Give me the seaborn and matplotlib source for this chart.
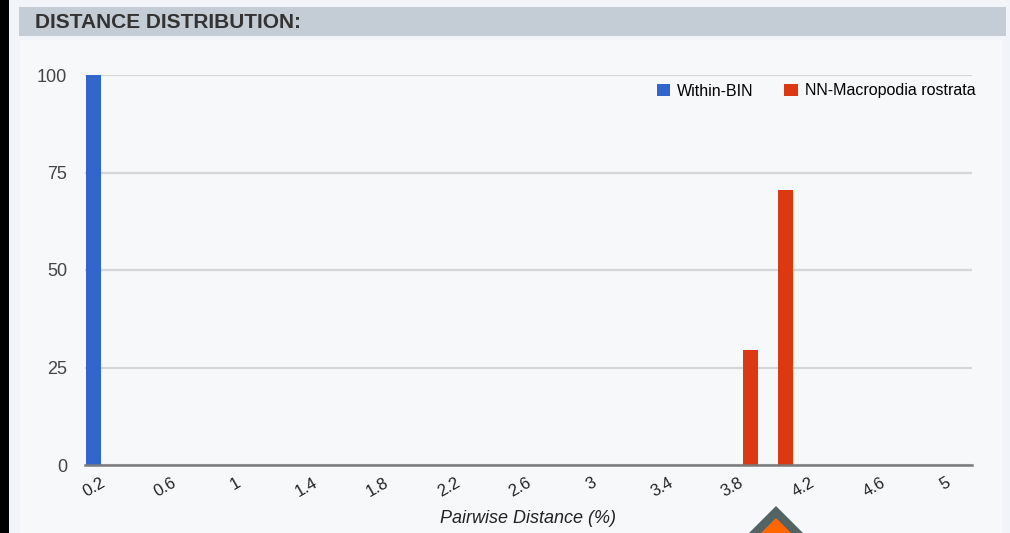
import matplotlib
matplotlib.use("Agg")
import matplotlib.pyplot as plt
from matplotlib.patches import Rectangle, Polygon, Patch
import seaborn as sns
import pandas as pd

# Distance bins (%) on the category axis
bins = ["0.2", "0.3", "0.4", "0.5", "0.6", "0.7", "0.8", "0.9", "1", "1.1",
        "1.2", "1.3", "1.4", "1.5", "1.6", "1.7", "1.8", "1.9", "2", "2.1",
        "2.2", "2.3", "2.4", "2.5", "2.6", "2.7", "2.8", "2.9", "3", "3.1",
        "3.2", "3.3", "3.4", "3.5", "3.6", "3.7", "3.8", "3.9", "4", "4.1",
        "4.2", "4.3", "4.4", "4.5", "4.6", "4.7", "4.8", "4.9", "5", "5.1"]
tick_labels = ["0.2", "0.6", "1", "1.4", "1.8", "2.2", "2.6", "3", "3.4",
               "3.8", "4.2", "4.6", "5"]

series_names = ["Within-BIN", "NN-Macropodia rostrata"]
within_bins = ["0.2"]
within_pct = [100]
nn_bins = ["3.9", "4.1"]
nn_pct = [29.4, 70.6]

colors = ["#3366cc", "#dc3912"]

df = pd.DataFrame({
    "bin": within_bins + nn_bins,
    "pct": within_pct + nn_pct,
    "series": [series_names[0]] * len(within_bins) + [series_names[1]] * len(nn_bins),
})

W, H = 1010, 533
fig = plt.figure(figsize=(W / 100, H / 100), dpi=100, facecolor="#f1f5f9")

def px_rect(x0, y0, x1, y1, color, z=0):
    fig.add_artist(Rectangle((x0 / W, 1 - y1 / H), (x1 - x0) / W, (y1 - y0) / H,
                             transform=fig.transFigure, facecolor=color,
                             edgecolor="none", zorder=z))

# page frame: dark strip, panel body, section header
px_rect(0, 0, 9, H, "#000000")
px_rect(20, 40, 1002, H, "#f7f8fa")
px_rect(19, 7, 1006, 36, "#c4cdd6")
fig.text(35 / W, 1 - 22 / H, "DISTANCE DISTRIBUTION:", fontsize=15,
         fontweight="heavy", color="#333333", family="Liberation Sans",
         va="center", ha="left")

ax = fig.add_axes([85 / W, 1 - 465 / H, (972 - 85) / W, (465 - 75) / H])
ax.set_facecolor("#f7f8fa")

sns.barplot(data=df, x="bin", y="pct", hue="series", order=bins,
            hue_order=series_names, palette=colors, dodge=False,
            width=0.86, saturation=1, ax=ax, legend=False)

ax.set_xlim(-0.5, len(bins) - 0.5)
ax.set_ylim(0, 100)
ax.set_yticks([0, 25, 50, 75, 100])
ax.set_yticklabels(["0", "25", "50", "75", "100"])
ax.grid(axis="y", color="#d6d6d6", linewidth=1.6, zorder=0)
ax.set_axisbelow(True)
for s in ["top", "right", "left"]:
    ax.spines[s].set_visible(False)
ax.spines["bottom"].set_color("#7a7a7a")
ax.spines["bottom"].set_linewidth(1.8)
ax.spines["bottom"].set_zorder(5)

tick_pos = [bins.index(t) for t in tick_labels]
ax.set_xticks(tick_pos)
ax.set_xticklabels(tick_labels, rotation=30, ha="center",
                   fontsize=12, color="#222222", family="Liberation Sans")
ax.tick_params(axis="x", length=0, pad=7)
ax.tick_params(axis="y", length=0, pad=13, labelsize=13, labelcolor="#444444")
for lab in ax.get_yticklabels():
    lab.set_family("Liberation Sans")

ax.set_ylabel("")
ax.set_xlabel("Pairwise Distance (%)", fontsize=13, style="italic",
              color="#222222", family="Liberation Sans", labelpad=8)

handles = [Patch(facecolor=c, edgecolor="none") for c in colors]
fig.legend(handles, series_names, loc="center right",
           bbox_to_anchor=(990 / W, 1 - 91 / H), ncol=2, frameon=False,
           handlelength=0.85, handleheight=0.85, handletextpad=0.45,
           columnspacing=1.9, prop={"family": "Liberation Sans", "size": 11.5})

# scroll-to-top marker at the bottom edge
def px_poly(pts, color, z):
    fig.add_artist(Polygon([(x / W, 1 - y / H) for x, y in pts], closed=True,
                           transform=fig.transFigure, facecolor=color,
                           edgecolor="none", zorder=z))

px_poly([(776, 506), (736, 546), (816, 546)], "#546465", 10)
px_poly([(776, 518), (748, 546), (804, 546)], "#ff6600", 11)

fig.savefig("out.png", dpi=100, facecolor=fig.get_facecolor())
